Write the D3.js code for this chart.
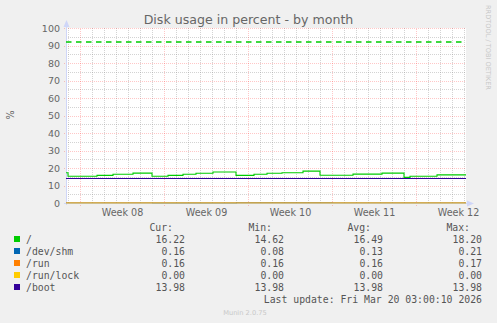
<!DOCTYPE html>
<html>
<head>
<meta charset="utf-8">
<script src="https://cdn.jsdelivr.net/npm/d3@7"></script>
<style>
  html, body { margin: 0; padding: 0; background: #F0F0F0; }
  svg { display: block; }
</style>
</head>
<body>
<div id="chart"></div>
<script>
// series names + colours (munin defaults)
const names = ["/", "/dev/shm", "/run", "/run/lock", "/boot"];
const colors = ["#00CC00", "#0066B3", "#FF8000", "#FFCC00", "#330099"];

// time window of the month graph
const startTime = "2026-02-14T19:00:10";
const endTime = "2026-03-20T03:00:10";

// "/" usage (step changes)
const rootTimes = ["2026-02-14T19:00", "2026-02-14T23:00", "2026-02-17T09:00", "2026-02-18T17:00",
  "2026-02-20T09:00", "2026-02-21T23:00", "2026-02-23T07:00", "2026-02-24T13:00", "2026-02-25T15:00",
  "2026-02-27T01:00", "2026-02-28T23:00", "2026-03-02T11:00", "2026-03-03T13:00", "2026-03-04T19:00",
  "2026-03-06T13:00", "2026-03-07T23:00", "2026-03-10T17:00", "2026-03-13T03:00", "2026-03-14T23:00",
  "2026-03-15T11:00", "2026-03-17T17:00"];
const rootValues = [17.3, 15.3, 15.8, 16.4, 17.1, 15.3, 15.8, 16.4, 17.0, 17.7, 15.8, 16.4, 17.0, 17.3,
  18.2, 15.9, 16.5, 17.1, 14.62, 15.3, 16.1];

const shmTimes = ["2026-02-14T19:00", "2026-02-22T00:00", "2026-03-01T00:00", "2026-03-09T00:00", "2026-03-16T00:00"];
const shmValues = [0.13, 0.08, 0.21, 0.12, 0.16];
const runTimes = ["2026-02-14T19:00", "2026-03-05T00:00"];
const runValues = [0.17, 0.16];
const lockTimes = ["2026-02-14T19:00"];
const lockValues = [0.00];
const bootTimes = ["2026-02-14T19:00"];
const bootValues = [13.98];

const warnLevel = 92;

// legend numbers
const curVals = ["16.22", "0.16", "0.16", "0.00", "13.98"];
const minVals = ["14.62", "0.08", "0.16", "0.00", "13.98"];
const avgVals = ["16.49", "0.13", "0.16", "0.00", "13.98"];
const maxVals = ["18.20", "0.21", "0.17", "0.00", "13.98"];

const yTicks = [0, 10, 20, 30, 40, 50, 60, 70, 80, 90, 100];

const W = 497, H = 323;
const parse = d3.utcParse("%Y-%m-%dT%H:%M");
const parseS = d3.utcParse("%Y-%m-%dT%H:%M:%S");
const t0 = parseS(startTime), t1 = parseS(endTime);

const x = d3.scaleUtc().domain([t0, t1]).range([66, 466]);
const y = d3.scaleLinear().domain([0, 100]).range([203, 28]);

const svg = d3.select("#chart").append("svg")
  .attr("width", W).attr("height", H)
  .style("font-family", "'DejaVu Sans', sans-serif");

svg.append("rect").attr("width", W).attr("height", H).attr("fill", "#F0F0F0");
svg.append("rect")
  .attr("x", x.range()[0]).attr("y", y(100))
  .attr("width", x.range()[1] - x.range()[0]).attr("height", y(0) - y(100))
  .attr("fill", "#FFFFFF");

// grid
const gridGray = "rgba(140,140,140,0.38)";
const gridRed = "rgba(255,0,0,0.22)";
const g = svg.append("g").attr("shape-rendering", "crispEdges");
const minorY = d3.range(5, 100, 10);
g.selectAll(".my").data(minorY).join("line")
  .attr("x1", x.range()[0]).attr("x2", x.range()[1])
  .attr("y1", d => Math.round(y(d)) + 0.5).attr("y2", d => Math.round(y(d)) + 0.5)
  .attr("stroke", gridGray).attr("stroke-dasharray", "1,1");
const days = d3.utcDay.range(d3.utcDay.ceil(t0), t1).filter(d => d.getUTCDay() !== 1);
g.selectAll(".mx").data(days).join("line")
  .attr("x1", d => Math.round(x(d)) + 0.5).attr("x2", d => Math.round(x(d)) + 0.5)
  .attr("y1", y(0)).attr("y2", y(100))
  .attr("stroke", gridGray).attr("stroke-dasharray", "1,1");
g.selectAll(".My").data(yTicks).join("line")
  .attr("x1", x.range()[0] - 2).attr("x2", x.range()[1])
  .attr("y1", d => Math.round(y(d)) + 0.5).attr("y2", d => Math.round(y(d)) + 0.5)
  .attr("stroke", gridRed).attr("stroke-dasharray", "1,1");
const mondays = d3.utcMonday.range(t0, t1);
g.selectAll(".Mx").data(mondays).join("line")
  .attr("x1", d => Math.round(x(d)) + 0.5).attr("x2", d => Math.round(x(d)) + 0.5)
  .attr("y1", y(0) + 3).attr("y2", y(100))
  .attr("stroke", gridRed).attr("stroke-dasharray", "1,1");

// axes lines + arrows
svg.append("line").attr("x1", 66.5).attr("x2", 66.5).attr("y1", y(0) + 2).attr("y2", y(100) - 4)
  .attr("stroke", "#CFD6F8");
svg.append("line").attr("x1", 64).attr("x2", 468).attr("y1", 203.5).attr("y2", 203.5)
  .attr("stroke", "#CFD6F8");
svg.append("path").attr("d", "M63.5,27L66.5,20L69.5,27Z").attr("fill", "#CFD6F8");
svg.append("path").attr("d", "M467,200.5L474,203.5L467,206.5Z").attr("fill", "#CFD6F8");

// tick labels
svg.append("g").selectAll("text").data(yTicks).join("text")
  .attr("x", 60).attr("y", d => y(d) + 3.5)
  .attr("text-anchor", "end").attr("font-size", "9.5px").attr("fill", "#666")
  .text(d => d);
svg.append("g").selectAll("text").data(mondays).join("text")
  .attr("x", d => x(d3.utcHour.offset(d, 84)))
  .attr("y", 215.5)
  .attr("text-anchor", "middle").attr("font-size", "9.6px").attr("fill", "#666")
  .text(d => "Week " + d3.utcFormat("%V")(d3.utcHour.offset(d, 84)));

// title + side texts
svg.append("text").attr("x", 248.5).attr("y", 23.5).attr("text-anchor", "middle")
  .attr("font-size", "12.6px").attr("fill", "#666").text("Disk usage in percent - by month");
svg.append("text").attr("transform", "translate(13.5,115) rotate(-90)").attr("text-anchor", "middle")
  .attr("font-size", "9.6px").attr("fill", "#666").text("%");
svg.append("text").attr("transform", "translate(486,5) rotate(90)").attr("text-anchor", "start")
  .attr("font-size", "6.6px").attr("fill", "#C8C8C8").text("RRDTOOL / TOBI OETIKER");
svg.append("text").attr("x", 245).attr("y", 315).attr("text-anchor", "middle")
  .attr("font-size", "6.7px").attr("fill", "#C8C8C8").text("Munin 2.0.75");

// warning line
svg.append("line").attr("x1", x.range()[0]).attr("x2", x.range()[1])
  .attr("y1", y(warnLevel)).attr("y2", y(warnLevel))
  .attr("stroke", colors[0]).attr("stroke-width", 1.3).attr("stroke-dasharray", "5.5,4.5");

// series
const series = [
  [rootTimes, rootValues], [shmTimes, shmValues], [runTimes, runValues],
  [lockTimes, lockValues], [bootTimes, bootValues]
].map(([ts, vs]) => {
  const pts = ts.map((t, i) => ({ t: parse(t), v: vs[i] }));
  pts.push({ t: t1, v: vs[vs.length - 1] });
  return pts;
});
const line = d3.line().x(d => x(d.t)).y(d => y(d.v)).curve(d3.curveStepAfter);
svg.append("g").selectAll("path").data(series).join("path")
  .attr("d", line).attr("fill", "none")
  .attr("stroke", (d, i) => colors[i])
  .attr("stroke-opacity", (d, i) => i === 0 || i === 4 ? 1 : 0.6)
  .attr("stroke-width", 1.1);

// legend
const mono = "'DejaVu Sans Mono', monospace";
const lg = svg.append("g").style("font-family", mono).attr("font-size", "9.8px").attr("fill", "#555");
const cols = [[185, "Cur:", curVals], [284, "Min:", minVals], [383, "Avg:", avgVals], [482, "Max:", maxVals]];
cols.forEach(([xr, head, vals]) => {
  lg.append("text").attr("x", xr - 12).attr("y", 231).attr("text-anchor", "end").text(head);
  lg.selectAll(null).data(vals).join("text")
    .attr("x", xr).attr("y", (d, i) => 243 + i * 12).attr("text-anchor", "end").text(d => d);
});
lg.selectAll(null).data(names).join("text")
  .attr("x", 26).attr("y", (d, i) => 243 + i * 12).text(d => d);
lg.selectAll(null).data(colors).join("rect")
  .attr("x", 14).attr("y", (d, i) => 236 + i * 12).attr("width", 6).attr("height", 6)
  .attr("fill", d => d);
lg.append("text").attr("x", 482).attr("y", 303).attr("text-anchor", "end")
  .text("Last update: Fri Mar 20 03:00:10 2026");
</script>
</body>
</html>
